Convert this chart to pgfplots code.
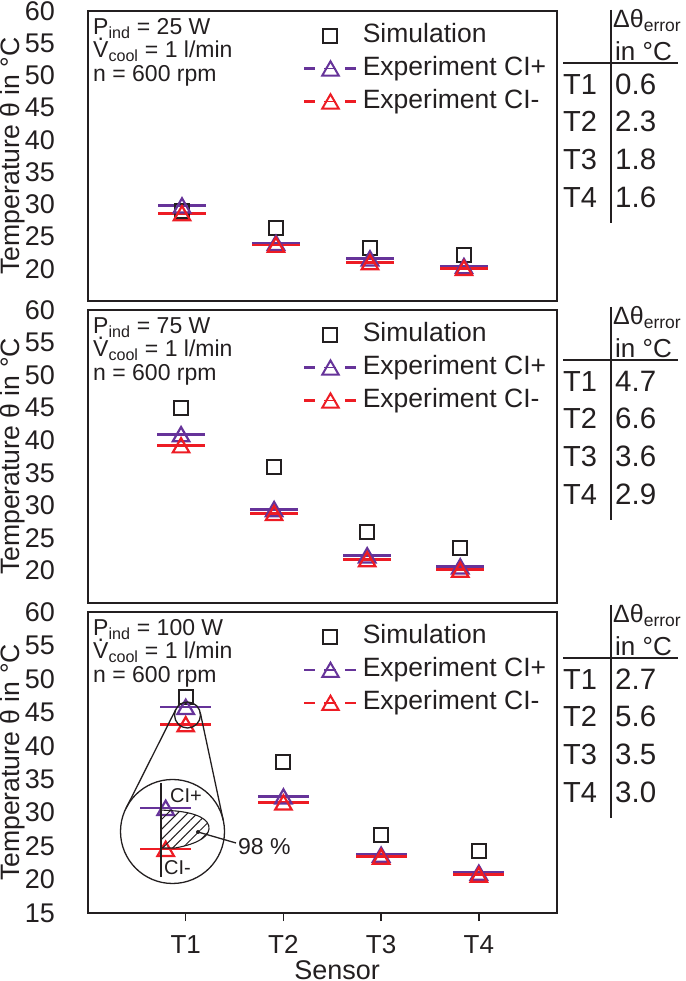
\documentclass[border=0pt]{standalone}
\usepackage{pgfplots}
\pgfplotsset{compat=1.18}
\usepackage{fontspec}
\setmainfont{Liberation Sans}
\usetikzlibrary{patterns.meta}
\definecolor{ink}{RGB}{35,31,32}
\definecolor{cplus}{RGB}{102,51,153}
\definecolor{cminus}{RGB}{237,28,36}
\newcommand{\fs}[1]{\fontsize{#1}{#1}\selectfont}
\newcommand{\Vdot}{{\ooalign{V\cr\hidewidth\raisebox{0.74em}{.}\hidewidth\cr}}}

\pgfplotsset{
  panel/.style={
    scale only axis, width=469pt, xmin=0, ymin=15, ymax=60,
    axis line style={ink, line width=1.7pt},
    ytick={20,25,...,60},
    ytick style={draw=none},
    xtick=\empty,
    tick align=outside, major tick length=8pt,
    xtick pos=left,
    yticklabel style={font=\fs{27}, text=ink, anchor=east, inner sep=0pt, xshift=-25pt},
    /pgf/number format/assume math mode=true,
    ylabel={Temperature θ in °C},
    ylabel style={font=\fs{26.6}, text=ink, at={(rel axis cs:-0.160,0.5)}, anchor=center},
    clip=false,
    legend cell align=left,
    legend style={draw=none, fill=none, inner sep=0pt, at={(rel axis cs:0.4584,0.959)}, anchor=north west,
      row sep=8pt, column sep=5pt, font=\fs{26.5}, text=ink,
      nodes={inner sep=0pt, text height=19pt, text depth=6pt}},
  },
  sim/.style={only marks, mark=square, mark size=7pt, color=ink, mark options={line width=2pt},
    legend image code/.code={
      \path (0pt,0pt) (52pt,0pt);
      \draw[ink, line width=2pt, mark size=7pt] plot[mark=square] coordinates {(26pt,0pt)};}},
  cip/.style={only marks, mark=triangle, mark size=9.5pt, color=cplus,
    mark options={line width=2.2pt, yshift=-2.2pt},
    error bars/x dir=both, error bars/x fixed=0.26, error bars/error mark=none,
    error bars/error bar style={line width=2.8pt, color=cplus},
    legend image code/.code={
      \draw[cplus, line width=2.6pt] (0pt,0pt) -- (11pt,0pt) (41pt,0pt) -- (52pt,0pt);
      \draw[cplus, line width=1.4pt] (20pt,0pt) -- (32pt,0pt);
      \draw[cplus, line width=2pt, mark size=9.5pt, mark options={yshift=-2.2pt}] plot[mark=triangle] coordinates {(26pt,0pt)};}},
  cim/.style={only marks, mark=triangle, mark size=9.5pt, color=cminus,
    mark options={line width=2.2pt, yshift=-2.2pt},
    error bars/x dir=both, error bars/x fixed=0.26, error bars/error mark=none,
    error bars/error bar style={line width=2.8pt, color=cminus},
    legend image code/.code={
      \draw[cminus, line width=2.6pt] (0pt,0pt) -- (11pt,0pt) (41pt,0pt) -- (52pt,0pt);
      \draw[cminus, line width=1.4pt] (20pt,0pt) -- (32pt,0pt);
      \draw[cminus, line width=2pt, mark size=9.5pt, mark options={yshift=-2.2pt}] plot[mark=triangle] coordinates {(26pt,0pt)};}},
}

\newcommand{\errtable}[4]{%
  \draw[ink, line width=1.4pt] (611,971) -- (611,758);
  \draw[ink, line width=1.4pt] (563,918) -- (678,918);
  \node[anchor=base west, inner sep=0pt, font=\fs{25}, text=ink] at (613,953) {Δθ\textsubscript{error}};
  \node[anchor=base west, inner sep=0pt, font=\fs{26}, text=ink] at (615,920) {in °C};
  \node[anchor=base west, inner sep=0pt, font=\fs{29}, text=ink] at (563,886) {T1};
  \node[anchor=base west, inner sep=0pt, font=\fs{29}, text=ink] at (563,849) {T2};
  \node[anchor=base west, inner sep=0pt, font=\fs{29}, text=ink] at (563,811) {T3};
  \node[anchor=base west, inner sep=0pt, font=\fs{29}, text=ink] at (563,773) {T4};
  \node[anchor=base west, inner sep=0pt, font=\fs{29.5}, text=ink] at (615,886) {#1};
  \node[anchor=base west, inner sep=0pt, font=\fs{29.5}, text=ink] at (615,849) {#2};
  \node[anchor=base west, inner sep=0pt, font=\fs{29.5}, text=ink] at (615,811) {#3};
  \node[anchor=base west, inner sep=0pt, font=\fs{29.5}, text=ink] at (615,773) {#4};
}
\newcommand{\annot}[1]{%
  \node[anchor=base west, inner sep=0pt, font=\fs{23}, text=ink] at (93,946) {P\textsubscript{ind} = #1};
  \node[anchor=base west, inner sep=0pt, font=\fs{23}, text=ink] at (93,923) {\Vdot\textsubscript{cool} = 1 l/min};
  \node[anchor=base west, inner sep=0pt, font=\fs{23}, text=ink] at (93,899) {n = 600 rpm};
}

\begin{document}
\begin{tikzpicture}
\useasboundingbox (0pt,0pt) rectangle (685pt,981pt);

% ---------- panel 1: 25 W
\begin{axis}[panel, at={(88pt,680pt)}, anchor=south west, height=290pt, xmax=4.99]
\addplot[sim] coordinates {(1,29.0) (2,26.4) (3,23.2) (4,22.1)};
\addlegendentry{Simulation}
\addplot[cip] coordinates {(1,29.8) (2,24.0) (3,21.6) (4,20.4)};
\addlegendentry{Experiment CI+}
\addplot[cim] coordinates {(1,28.6) (2,23.7) (3,21.0) (4,20.1)};
\addlegendentry{Experiment CI-}
\end{axis}

% ---------- panel 2: 75 W
\begin{axis}[panel, at={(88pt,378pt)}, anchor=south west, height=293pt, xmax=5.04]
\addplot[sim] coordinates {(1,44.9) (2,35.9) (3,25.9) (4,23.4)};
\addlegendentry{Simulation}
\addplot[cip] coordinates {(1,40.9) (2,29.4) (3,22.3) (4,20.6)};
\addlegendentry{Experiment CI+}
\addplot[cim] coordinates {(1,39.2) (2,28.8) (3,21.7) (4,20.1)};
\addlegendentry{Experiment CI-}
\end{axis}

% ---------- panel 3: 100 W
\begin{axis}[panel, at={(88pt,68pt)}, anchor=south west, height=301pt, xmax=4.8,
  ytick={15,20,...,60},
  xtick={1,2,3,4}, xticklabels={T1,T2,T3,T4},
  xtick style={ink, line width=1.4pt},
  xticklabel style={font=\fs{26}, text=ink, anchor=base, inner sep=0pt, yshift=-32pt},
  xlabel={Sensor},
  xlabel style={font=\fs{27}, text=ink, at={(rel axis cs:0.531,0)}, anchor=base, yshift=-66pt}]
\addplot[sim] coordinates {(1,47.3) (2,37.6) (3,26.7) (4,24.2)};
\addlegendentry{Simulation}
\addplot[cip] coordinates {(1,45.8) (2,32.4) (3,23.7) (4,21.0)};
\addlegendentry{Experiment CI+}
\addplot[cim] coordinates {(1,43.2) (2,31.5) (3,23.4) (4,20.7)};
\addlegendentry{Experiment CI-}
% magnified view inside the inset
\addplot[cip, forget plot] coordinates {(0.795,30.70)};
\addplot[cim, forget plot] coordinates {(0.795,24.57)};
\end{axis}

\begin{scope}[x=1pt, y=1pt]
  % tables
  \errtable{0.6}{2.3}{1.8}{1.6}
  \begin{scope}[yshift=-297pt]\errtable{4.7}{6.6}{3.6}{2.9}\end{scope}
  \begin{scope}[yshift=-595pt]\errtable{2.7}{5.6}{3.5}{3.0}\end{scope}
  % annotations
  \annot{25 W}
  \begin{scope}[yshift=-299pt]\annot{75 W}\end{scope}
  \begin{scope}[yshift=-601pt]\annot{100 W}\end{scope}
  % inset magnifier
  \draw[ink, line width=1.3pt] (187.5,266) circle (13);
  \draw[ink, line width=1.3pt] (172.5,149.5) circle (52);
  \draw[ink, line width=1.3pt] (175.9,271.8) -- (126.1,172.8);
  \draw[ink, line width=1.3pt] (200.2,268.7) -- (223.3,160.4);
  \draw[ink, line width=1.1pt, pattern={Lines[angle=45,distance=7pt,line width=1pt]}, pattern color=ink]
    (161,171) -- (176,170) .. controls (196,168) and (210,162) .. (209,152)
    .. controls (208,142) and (192,136) .. (175,133) -- (161,133) -- cycle;
  \draw[ink, line width=1.5pt] (161,198) -- (161,104);
  \fill[ink] (198,149) circle (2);
  \draw[ink, line width=1.3pt] (198,149) -- (236,138);
  \node[anchor=base west, inner sep=0pt, font=\fs{23}, text=ink] at (238,126) {98 \%};
  \node[anchor=base west, inner sep=0pt, font=\fs{20}, text=ink] at (170,178) {CI+};
  \node[anchor=base west, inner sep=0pt, font=\fs{20}, text=ink] at (164,106) {CI-};
\end{scope}
\end{tikzpicture}
\end{document}
